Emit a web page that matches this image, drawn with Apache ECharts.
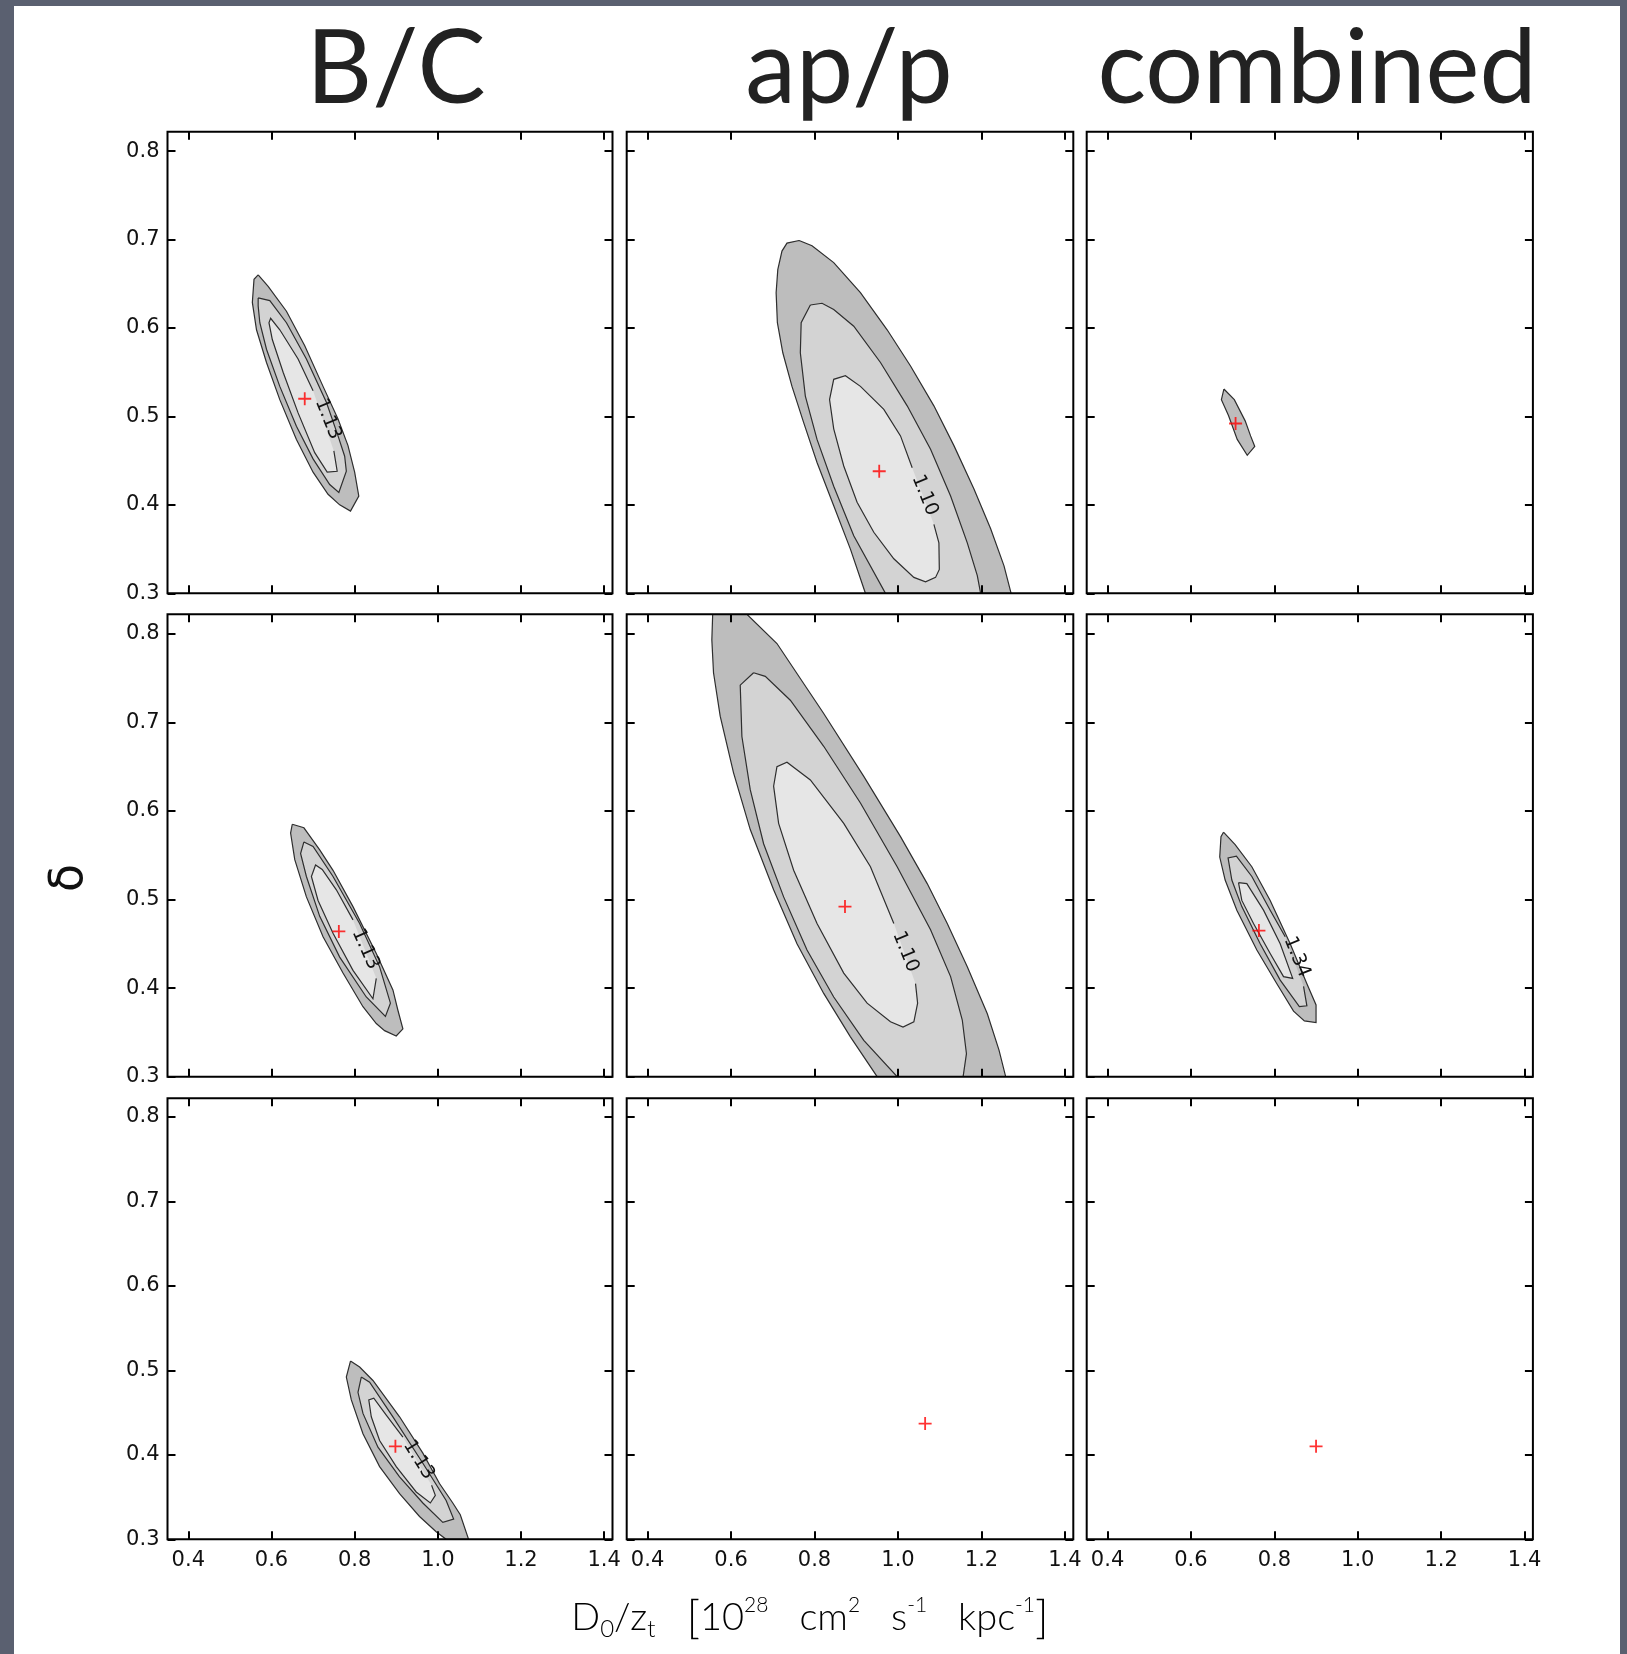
<!DOCTYPE html>
<html><head><meta charset="utf-8">
<script src="https://cdn.jsdelivr.net/npm/echarts@6/dist/echarts.min.js"></script>
<style>
html,body{margin:0;padding:0;background:#5a6070;overflow:hidden;}
#bg{position:absolute;left:14px;top:6px;width:1606px;height:1648px;background:#fff;}
#chart{position:absolute;left:0;top:0;width:1627px;height:1654px;}
</style></head><body><div id="bg"></div><div id="chart"></div>
<script>
// ---------------- data ----------------
const columnTitles = ['B/C', 'ap/p', 'combined'];
const xTicks = [0.4, 0.6, 0.8, 1.0, 1.2, 1.4];
const yTicks = [0.3, 0.4, 0.5, 0.6, 0.7, 0.8];
const xRange = [0.35, 1.42];
const yRange = [0.3, 0.822];

// best-fit points (red crosses), row by row
const bestFit = [
  [0.68, 0.52], [0.955, 0.438], [0.707, 0.492],
  [0.762, 0.464], [0.873, 0.492], [0.763, 0.465],
  [0.898, 0.41], [1.065, 0.437], [0.90, 0.41]
];

// Row 1, B/C
const bc1Outer = [[0.568,0.660],[0.592,0.647],[0.636,0.619],[0.680,0.580],[0.724,0.534],[0.760,0.497],[0.784,0.467],[0.800,0.437],[0.810,0.410],[0.790,0.393],[0.764,0.400],[0.736,0.412],[0.700,0.437],[0.660,0.474],[0.620,0.519],[0.588,0.561],[0.564,0.598],[0.554,0.629],[0.558,0.655]];
const bc1Middle = [[0.568,0.634],[0.596,0.631],[0.636,0.606],[0.684,0.565],[0.732,0.516],[0.760,0.478],[0.776,0.455],[0.780,0.438],[0.762,0.414],[0.740,0.423],[0.700,0.452],[0.660,0.489],[0.620,0.534],[0.588,0.576],[0.572,0.606],[0.568,0.625]];
const bc1Inner = [[0.750,0.461],[0.758,0.438],[0.734,0.437],[0.704,0.459],[0.664,0.504],[0.628,0.550],[0.602,0.587],[0.594,0.606],[0.598,0.611],[0.620,0.598],[0.664,0.565],[0.700,0.529]];
const bc1Label = [0.736, 0.497, '1.13'];

// Row 1, ap/p
const ap1Outer = [[0.763,0.699],[0.794,0.693],[0.846,0.674],[0.910,0.640],[0.974,0.598],[1.030,0.557],[1.086,0.512],[1.134,0.467],[1.182,0.418],[1.222,0.373],[1.254,0.331],[1.271,0.300],[0.922,0.300],[0.886,0.350],[0.846,0.399],[0.806,0.448],[0.774,0.493],[0.746,0.534],[0.724,0.572],[0.711,0.606],[0.708,0.640],[0.712,0.666],[0.722,0.687],[0.734,0.696]];
const ap1Middle = [[0.790,0.626],[0.818,0.628],[0.846,0.621],[0.894,0.602],[0.958,0.561],[1.022,0.512],[1.078,0.463],[1.126,0.410],[1.166,0.357],[1.190,0.320],[1.198,0.300],[0.970,0.300],[0.894,0.365],[0.846,0.421],[0.806,0.474],[0.778,0.523],[0.766,0.572],[0.768,0.606]];
const ap1Inner = [[1.086,0.378],[1.098,0.357],[1.099,0.327],[1.090,0.318],[1.066,0.313],[1.038,0.318],[0.990,0.339],[0.942,0.369],[0.902,0.403],[0.870,0.444],[0.846,0.486],[0.836,0.519],[0.846,0.542],[0.874,0.546],[0.910,0.534],[0.966,0.508],[1.006,0.478],[1.034,0.442]];
const ap1Label = [1.064, 0.411, '1.10'];

// Row 1, combined
const cb1Outer = [[0.679,0.531],[0.704,0.519],[0.730,0.495],[0.743,0.478],[0.753,0.466],[0.735,0.456],[0.711,0.474],[0.690,0.501],[0.673,0.519]];

// Row 2, B/C
const bc2Outer = [[0.650,0.585],[0.678,0.581],[0.716,0.556],[0.748,0.533],[0.796,0.492],[0.852,0.439],[0.892,0.398],[0.904,0.375],[0.916,0.354],[0.900,0.346],[0.872,0.352],[0.852,0.360],[0.820,0.379],[0.772,0.417],[0.724,0.458],[0.684,0.503],[0.656,0.545],[0.646,0.575]];
const bc2Middle = [[0.678,0.565],[0.700,0.560],[0.748,0.526],[0.812,0.473],[0.860,0.424],[0.886,0.383],[0.874,0.368],[0.828,0.390],[0.764,0.435],[0.716,0.481],[0.684,0.526],[0.670,0.552]];
const bc2Inner = [[0.852,0.411],[0.844,0.388],[0.796,0.420],[0.748,0.462],[0.712,0.499],[0.696,0.526],[0.706,0.539],[0.722,0.534],[0.756,0.511],[0.796,0.477]];
const bc2Label = [0.826, 0.444, '1.13'];

// Row 2, ap/p
const ap2Outer = [[0.564,0.822],[0.638,0.822],[0.710,0.789],[0.822,0.710],[0.918,0.639],[1.006,0.571],[1.070,0.518],[1.118,0.473],[1.166,0.424],[1.214,0.371],[1.242,0.330],[1.258,0.300],[0.950,0.300],[0.886,0.345],[0.822,0.394],[0.758,0.450],[0.702,0.511],[0.646,0.579],[0.606,0.643],[0.574,0.707],[0.558,0.756],[0.554,0.793],[0.556,0.822]];
const ap2Middle = [[0.654,0.756],[0.682,0.752],[0.742,0.725],[0.822,0.673],[0.910,0.609],[0.998,0.537],[1.078,0.466],[1.126,0.413],[1.154,0.364],[1.164,0.326],[1.156,0.300],[0.998,0.300],[0.918,0.341],[0.846,0.390],[0.782,0.443],[0.726,0.503],[0.678,0.563],[0.646,0.624],[0.626,0.684],[0.622,0.742]];
const ap2Inner = [[1.042,0.405],[1.047,0.383],[1.038,0.362],[1.012,0.356],[0.982,0.362],[0.926,0.383],[0.870,0.417],[0.806,0.473],[0.750,0.533],[0.714,0.586],[0.702,0.628],[0.710,0.650],[0.734,0.655],[0.790,0.635],[0.870,0.586],[0.934,0.537],[0.990,0.473]];
const ap2Label = [1.018, 0.441, '1.10'];

// Row 2, combined
const cb2Outer = [[0.678,0.576],[0.706,0.562],[0.746,0.537],[0.790,0.499],[0.838,0.450],[0.878,0.405],[0.900,0.381],[0.900,0.361],[0.872,0.363],[0.846,0.374],[0.806,0.405],[0.758,0.443],[0.710,0.488],[0.682,0.522],[0.669,0.548],[0.672,0.571]];
const cb2Middle = [[0.870,0.402],[0.878,0.380],[0.860,0.379],[0.814,0.409],[0.766,0.450],[0.722,0.492],[0.698,0.522],[0.689,0.547],[0.709,0.549],[0.746,0.526],[0.790,0.488],[0.826,0.458]];
const cb2Inner = [[0.714,0.519],[0.734,0.518],[0.774,0.488],[0.814,0.450],[0.844,0.411],[0.822,0.413],[0.790,0.439],[0.750,0.473],[0.722,0.499]];
const cb2Label = [0.854, 0.435, '1.34'];

// Row 3, B/C
const bc3Outer = [[0.790,0.511],[0.812,0.504],[0.844,0.488],[0.908,0.445],[0.964,0.402],[1.004,0.366],[1.036,0.343],[1.054,0.329],[1.074,0.300],[1.020,0.300],[0.996,0.309],[0.956,0.327],[0.908,0.354],[0.860,0.386],[0.820,0.425],[0.792,0.465],[0.780,0.492]];
const bc3Middle = [[0.816,0.492],[0.836,0.486],[0.892,0.445],[0.964,0.390],[1.020,0.346],[1.038,0.324],[1.012,0.320],[0.964,0.343],[0.908,0.374],[0.856,0.409],[0.820,0.449],[0.808,0.474]];
const bc3Inner = [[0.985,0.364],[0.994,0.352],[0.982,0.343],[0.948,0.356],[0.900,0.386],[0.860,0.417],[0.840,0.445],[0.834,0.465],[0.846,0.467],[0.876,0.447],[0.916,0.421]];
const bc3Label = [0.954, 0.394, '1.13'];

// ---------------- layout / style ----------------
const levelFill = ['#bdbdbd', '#d3d3d3', '#e6e6e6'];
const lineColor = '#2e2e2e';
const cols = [{left:167.5, width:445}, {left:626.7, width:446.6}, {left:1086.7, width:446.2}];
const rows = [{top:131.7, height:461.6}, {top:614.3, height:462.4}, {top:1098.3, height:441}];

const panels = [
  {contours:[{pts:bc1Outer,level:0,closed:true},{pts:bc1Middle,level:1,closed:true},{pts:bc1Inner,level:2,closed:false,label:bc1Label,rot:-68}]},
  {contours:[{pts:ap1Outer,level:0,closed:true},{pts:ap1Middle,level:1,closed:true},{pts:ap1Inner,level:2,closed:false,label:ap1Label,rot:-68}]},
  {contours:[{pts:cb1Outer,level:0,closed:true}]},
  {contours:[{pts:bc2Outer,level:0,closed:true},{pts:bc2Middle,level:1,closed:true},{pts:bc2Inner,level:2,closed:false,label:bc2Label,rot:-66}]},
  {contours:[{pts:ap2Outer,level:0,closed:true},{pts:ap2Middle,level:1,closed:true},{pts:ap2Inner,level:2,closed:false,label:ap2Label,rot:-68}]},
  {contours:[{pts:cb2Outer,level:0,closed:true},{pts:cb2Middle,level:1,closed:false,label:cb2Label,rot:-68},{pts:cb2Inner,level:2,closed:true}]},
  {contours:[{pts:bc3Outer,level:0,closed:true},{pts:bc3Middle,level:1,closed:true},{pts:bc3Inner,level:2,closed:false,label:bc3Label,rot:-58}]},
  {contours:[]},
  {contours:[]}
];

const tickFont = {fontSize:21, fontFamily:'"DejaVu Sans", sans-serif', color:'#111'};
const grids = [], xAxes = [], yAxes = [], series = [];

for (let r = 0; r < 3; r++) {
  for (let c = 0; c < 3; c++) {
    const gi = r * 3 + c;
    grids.push({left:cols[c].left, top:rows[r].top, width:cols[c].width, height:rows[r].height,
      show:true, borderColor:'#000', borderWidth:2, backgroundColor:'transparent', z:6});
    ['bottom','top'].forEach(function(pos){
      xAxes.push({type:'value', gridIndex:gi, position:pos, min:xRange[0], max:xRange[1], z:6,
        axisLine:{show:false}, splitLine:{show:false},
        axisTick:{show:true, inside:true, length:8, customValues:xTicks, lineStyle:{color:'#000', width:2}},
        axisLabel:{show:(pos === 'bottom' && r === 2), customValues:xTicks, margin:11,
          formatter:function(v){return v.toFixed(1);}, fontSize:tickFont.fontSize, fontFamily:tickFont.fontFamily, color:tickFont.color}});
    });
    ['left','right'].forEach(function(pos){
      yAxes.push({type:'value', gridIndex:gi, position:pos, min:yRange[0], max:yRange[1], z:6,
        axisLine:{show:false}, splitLine:{show:false},
        axisTick:{show:true, inside:true, length:8, customValues:yTicks, lineStyle:{color:'#000', width:2}},
        axisLabel:{show:(pos === 'left' && c === 0), customValues:yTicks, margin:8,
          formatter:function(v){return v.toFixed(1);}, fontSize:tickFont.fontSize, fontFamily:tickFont.fontFamily, color:tickFont.color}});
    });
    const panel = panels[gi];
    if (panel.contours.length) {
      series.push({
        type:'custom', xAxisIndex:2*gi, yAxisIndex:2*gi, clip:true, silent:true, z:2,
        data: panel.contours.map(function(ct){return [ct.pts[0][0], ct.pts[0][1]];}),
        renderItem: function(params, api){
          const ct = panel.contours[params.dataIndex];
          const pts = ct.pts.map(function(p){return api.coord(p);});
          const children = [
            {type:'polygon', shape:{points:pts}, style:{fill:levelFill[ct.level], stroke:null}},
            {type:'polyline', shape:{points: ct.closed ? pts.concat([pts[0]]) : pts}, style:{fill:null, stroke:lineColor, lineWidth:1.2}}
          ];
          if (ct.label) {
            const lp = api.coord([ct.label[0], ct.label[1]]);
            children.push({type:'text', x:lp[0], y:lp[1], rotation:ct.rot*Math.PI/180,
              style:{text:ct.label[2], font:'19px "DejaVu Sans"', fill:'#111',
                textAlign:'center', textVerticalAlign:'middle', align:'center', verticalAlign:'middle'}});
          }
          return {type:'group', children:children};
        }
      });
    }
    series.push({type:'scatter', xAxisIndex:2*gi, yAxisIndex:2*gi, silent:true, z:4,
      data:[bestFit[gi]], symbol:'path://M0,43L100,43L100,57L0,57Z M43,0L57,0L57,100L43,100Z',
      symbolSize:13, itemStyle:{color:'#ff0000'}});
  }
}

const titleX = [396, 849, 1317];
const graphics = columnTitles.map(function(t, i){
  return {type:'text', x:titleX[i], y:70, z:10,
    style:{text:t, font:'normal 102px Lato, "Noto Sans", sans-serif', fill:'#222',
      textAlign:'center', textVerticalAlign:'middle', align:'center', verticalAlign:'middle'}};
});
graphics.push({type:'text', x:70, y:878, rotation:Math.PI/2, z:10,
  style:{text:'δ', font:'46px "DejaVu Sans", sans-serif', fill:'#111',
    textAlign:'center', textVerticalAlign:'middle', align:'center', verticalAlign:'middle'}});
graphics.push({type:'text', x:810, y:1618, z:10,
  style:{
    text:'{m|D}{s|0}{m|/z}{s|t}{m|   }{b|[}{m|10}{p|28}{m|   cm}{p|2}{m|   s}{p|-1}{m|   kpc}{p|-1}{b|]}',
    textAlign:'center', textVerticalAlign:'middle', align:'center', verticalAlign:'middle',
    rich:{
      m:{fontSize:38, fontFamily:'Lato, sans-serif', fontWeight:300, color:'#111', lineHeight:46, verticalAlign:'middle'},
      b:{fontSize:46, fontFamily:'Lato, sans-serif', fontWeight:300, color:'#111', lineHeight:46, verticalAlign:'middle'},
      s:{fontSize:24, fontFamily:'Lato, sans-serif', fontWeight:300, color:'#111', lineHeight:24, verticalAlign:'bottom'},
      p:{fontSize:21, fontFamily:'Lato, sans-serif', fontWeight:300, color:'#111', lineHeight:22, verticalAlign:'top'}
    }
  }});

const chart = echarts.init(document.getElementById('chart'), null, {renderer:'canvas'});
chart.setOption({
  animation:false,
  backgroundColor:'transparent',
  grid:grids, xAxis:xAxes, yAxis:yAxes, series:series, graphic:graphics
});
</script></body></html>
